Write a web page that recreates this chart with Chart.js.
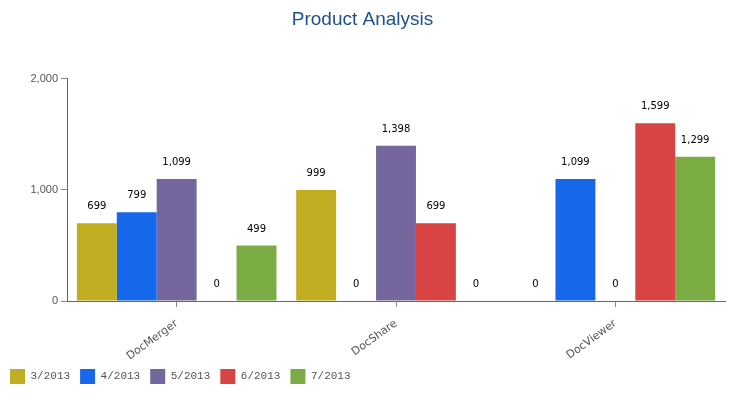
<!DOCTYPE html>
<html>
<head>
<meta charset="utf-8">
<script src="https://cdn.jsdelivr.net/npm/chart.js@4"></script>
<style>
  html, body { margin: 0; padding: 0; background: #fff; }
  #wrap { width: 729px; height: 394px; }
</style>
</head>
<body>
<div id="wrap"><canvas id="grafico"></canvas></div>
<script>
var productos = ['DocMerger', 'DocShare', 'DocViewer'];
var meses = ['3/2013', '4/2013', '5/2013', '6/2013', '7/2013'];
var valores_3_2013 = [699, 999, 0];
var valores_4_2013 = [799, 0, 1099];
var valores_5_2013 = [1099, 1398, 0];
var valores_6_2013 = [0, 699, 1599];
var valores_7_2013 = [499, 0, 1299];
var colores = ['#c0ad22', '#1767eb', '#75679e', '#d94545', '#7aac43'];

var series = [valores_3_2013, valores_4_2013, valores_5_2013, valores_6_2013, valores_7_2013];

// etiquetas de valor encima de cada barra
var etiquetas = {
    id: 'etiquetas',
    afterDatasetsDraw: function (chart) {
        var ctx = chart.ctx;
        ctx.save();
        ctx.font = '10px Tahoma, "DejaVu Sans", sans-serif';
        ctx.fillStyle = '#000';
        ctx.textAlign = 'center';
        ctx.textBaseline = 'alphabetic';
        chart.data.datasets.forEach(function (ds, i) {
            var meta = chart.getDatasetMeta(i);
            meta.data.forEach(function (bar, j) {
                var txt = ds.data[j].toLocaleString('en-US');
                ctx.fillText(txt, bar.x, bar.y - 14);
            });
        });
        ctx.restore();
    }
};

document.addEventListener("DOMContentLoaded", function () {
    var ctx = document.getElementById('grafico').getContext('2d');
    new Chart(ctx, {
        type: 'bar',
        data: {
            labels: productos,
            datasets: meses.map(function (m, i) {
                return {
                    label: m,
                    data: series[i],
                    backgroundColor: colores[i],
                    barPercentage: 1.0,
                    categoryPercentage: 0.91
                };
            })
        },
        options: {
            responsive: true,
            maintainAspectRatio: false,
            animation: false,
            layout: { padding: { left: 0, right: 4, top: 4, bottom: 0 } },
            scales: {
                x: {
                    afterFit: function (axis) { axis.height = 58; },
                    grid: { drawOnChartArea: false, offset: false, tickLength: 6, color: '#888' },
                    border: { color: '#666' },
                    ticks: {
                        minRotation: 36, maxRotation: 36,
                        padding: 10,
                        color: '#555',
                        font: { family: 'Tahoma, "DejaVu Sans", sans-serif', size: 11 }
                    }
                },
                y: {
                    min: 0, max: 2000,
                    afterFit: function (axis) { axis.width = 67; },
                    grid: { drawOnChartArea: false, tickLength: 6, color: '#888' },
                    border: { color: '#666' },
                    ticks: {
                        stepSize: 1000,
                        color: '#555',
                        font: { family: 'Arial, "Liberation Sans", sans-serif', size: 11 }
                    }
                }
            },
            plugins: {
                title: {
                    display: true,
                    text: 'Product Analysis',
                    color: '#1f4f8f',
                    font: { family: 'Arial, "Liberation Sans", sans-serif', size: 19, weight: 'normal' },
                    padding: { top: 4, bottom: 48 }
                },
                legend: {
                    position: 'bottom',
                    align: 'start',
                    labels: {
                        boxWidth: 15, boxHeight: 15,
                        color: '#555',
                        padding: 10,
                        font: { family: '"Liberation Mono", "DejaVu Sans Mono", monospace', size: 11 }
                    }
                },
                tooltip: { enabled: false }
            }
        },
        plugins: [etiquetas]
    });
});
</script>
</body>
</html>
